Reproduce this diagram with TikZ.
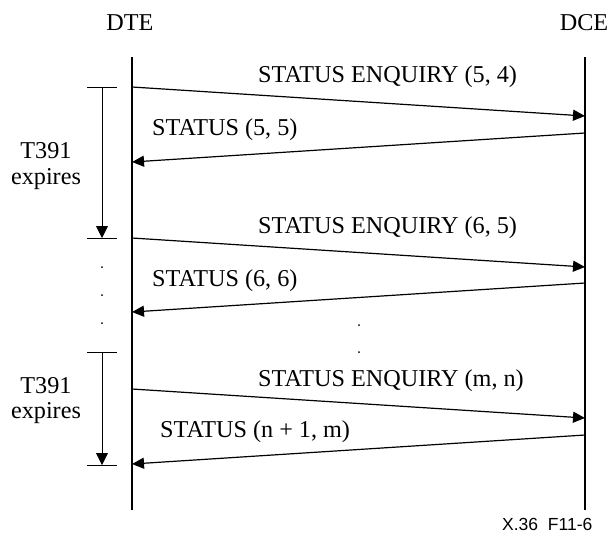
\documentclass[tikz,border=0pt]{standalone}
\usepackage{fontspec}
\setmainfont{Liberation Serif}
\newfontfamily\figsans{Liberation Sans}
\usetikzlibrary{arrows.meta}
\tikzset{
  lifeline/.style={line width=2pt},
  msg/.style={line width=1.2pt,-{Triangle[length=12pt,width=11pt]}},
  tick/.style={line width=0.9pt},
  timer/.style={line width=0.9pt,-{Triangle[length=12pt,width=12pt]}},
  lbl/.style={inner sep=0pt,font=\fontsize{24.2}{28}\selectfont},
  dot/.style={circle,fill=black,inner sep=0pt,minimum size=2pt},
}
\begin{document}
\begin{tikzpicture}[x=1pt,y=-1pt]
\useasboundingbox (0,0) rectangle (609,533);
% headers
\node[lbl,anchor=base] (dte) at (130,30) {DTE};
\node[lbl,anchor=base] (dce) at (584,30) {DCE};
% lifelines
\coordinate (dteTop) at (132,57);
\coordinate (dteBot) at (132,510);
\coordinate (dceTop) at (585,57);
\coordinate (dceBot) at (585,510);
\draw[lifeline] (dteTop) -- (dteBot);
\draw[lifeline] (dceTop) -- (dceBot);
% message endpoints
\coordinate (m1s) at (132,87);  \coordinate (m1e) at (585,116);
\coordinate (m2s) at (585,133); \coordinate (m2e) at (132,162);
\coordinate (m3s) at (132,238); \coordinate (m3e) at (585,267);
\coordinate (m4s) at (585,283); \coordinate (m4e) at (132,312);
\coordinate (m5s) at (132,389); \coordinate (m5e) at (585,418);
\coordinate (m6s) at (585,435); \coordinate (m6e) at (132,464);
\draw[msg] (m1s) -- (m1e);
\draw[msg] (m2s) -- (m2e);
\draw[msg] (m3s) -- (m3e);
\draw[msg] (m4s) -- (m4e);
\draw[msg] (m5s) -- (m5e);
\draw[msg] (m6s) -- (m6e);
% message labels
\node[lbl,anchor=base west] (l1) at (258,82) {STATUS ENQUIRY (5, 4)};
\node[lbl,anchor=base west] (l2) at (152,135) {STATUS (5, 5)};
\node[lbl,anchor=base west] (l3) at (258,233) {STATUS ENQUIRY (6, 5)};
\node[lbl,anchor=base west] (l4) at (152,286) {STATUS (6, 6)};
\node[lbl,anchor=base west] (l5) at (258,386) {STATUS ENQUIRY (m, n)};
\node[lbl,anchor=base west] (l6) at (160,437) {STATUS (n + 1, m)};
% timer 1
\coordinate (t1a) at (102,87);  \coordinate (t1b) at (102,238);
\coordinate (t1al) at (87,87);  \coordinate (t1ar) at (117,87);
\coordinate (t1bl) at (87,238); \coordinate (t1br) at (117,238);
\draw[tick] (t1al) -- (t1ar);
\draw[tick] (t1bl) -- (t1br);
\draw[timer] (t1a) -- (t1b);
\node[lbl,anchor=base] (x1a) at (46,158) {T391};
\node[lbl,anchor=base] (x1b) at (46,184) {expires};
% timer 2
\coordinate (t2a) at (102,352);  \coordinate (t2b) at (102,465);
\coordinate (t2al) at (87,352);  \coordinate (t2ar) at (117,352);
\coordinate (t2bl) at (87,465); \coordinate (t2br) at (117,465);
\draw[tick] (t2al) -- (t2ar);
\draw[tick] (t2bl) -- (t2br);
\draw[timer] (t2a) -- (t2b);
\node[lbl,anchor=base] (x2a) at (46,393) {T391};
\node[lbl,anchor=base] (x2b) at (46,418) {expires};
% continuation dots
\node[dot] (d1) at (102,267) {};
\node[dot] (d2) at (102,295) {};
\node[dot] (d3) at (102,323) {};
\node[dot] (d4) at (359,325) {};
\node[dot] (d5) at (359,352) {};
% figure id
\node[inner sep=0pt,anchor=base west,font=\figsans\fontsize{17.5}{20}\selectfont] (fig) at (502,530) {X.36\ \ F11-6};
\end{tikzpicture}
\end{document}
